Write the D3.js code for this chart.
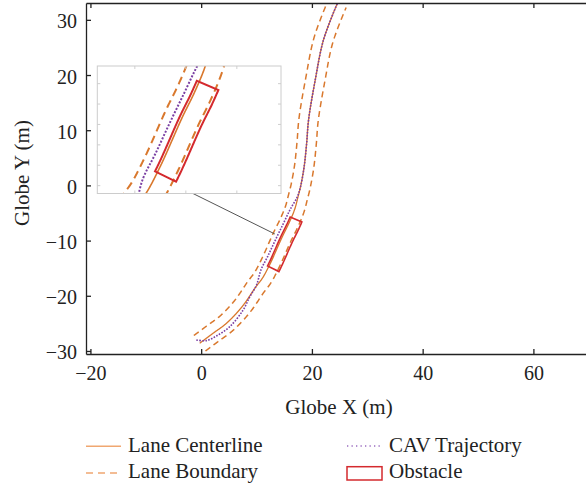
<!DOCTYPE html>
<html>
<head>
<meta charset="utf-8">
<script src="https://cdn.jsdelivr.net/npm/d3@7"></script>
<style>
  body { margin: 0; background: white; }
  text { font-family: "Liberation Serif", "DejaVu Serif", serif; fill: #222; }
</style>
</head>
<body>
<script>
// lane centerline (m)
const centerX = [-0.27, 2.14, 4.57, 7.4, 9.9, 11.1, 12.5, 14.65, 15.85, 16.9, 17.5, 17.95, 18.6, 19.05, 19.4, 20.6, 22.1, 24.6];
const centerY = [-28.6, -26.8, -24.98, -21.97, -18.35, -16.75, -14.1, -9.3, -6.85, -4.3, -2.03, -0.22, 3.41, 7.65, 11.9, 19.1, 26.4, 33.0];

// CAV trajectory
const cavX = [-0.87, 0.94, 2.76, 5.17, 7.58, 8.79, 10.0, 10.8, 12.0, 13.4, 14.85, 16.1, 17.35, 17.95, 18.6, 19.05, 19.4, 20.6, 22.1, 24.6];
const cavY = [-28.0, -28.13, -27.28, -25.6, -22.57, -20.16, -18.04, -15.3, -12.9, -9.9, -6.9, -4.3, -2.1, -0.22, 3.41, 7.65, 11.9, 19.1, 26.4, 33.0];

const laneHalfWidth = 1.75;

// obstacle: lane-relative, from its rear-left corner to front-left corner
const obstacleFrom = [11.98, -14.57];
const obstacleTo = [16.0, -5.65];
const obstacleD = [0.25, -2.05];   // lateral offsets (left +, right -)

const xTicks = [-20, 0, 20, 40, 60];
const yTicks = [-30, -20, -10, 0, 10, 20, 30];
const insetXTicks = [10, 15, 20];
const insetYTicks = [-16, -14, -12, -10, -8, -6];

const legendLabels = ["Lane Centerline", "Lane Boundary", "CAV Trajectory", "Obstacle"];

const orange = "#d9782d";
const purple = "#7a3fa3";
const red = "#d42a2e";

const body = d3.select("body");
const svg = body.append("svg")
    .attr("width", 586)
    .attr("height", 487);

// scales
const x = d3.scaleLinear().domain([-20.8, 69.5]).range([86, 586]);
const y = d3.scaleLinear().domain([-30.55, 33.05]).range([354, 3]);
const xi = d3.scaleLinear().domain([6.32, 24.33]).range([97.3, 281]);
const yi = d3.scaleLinear().domain([-16.77, -4.27]).range([193.5, 66]);

// sample centerline densely to get offsets
const rawLine = d3.line().curve(d3.curveCatmullRom.alpha(0.5));
const tmpPath = svg.append("path")
    .attr("d", rawLine(centerX.map((v, i) => [v, centerY[i]])))
    .attr("fill", "none").attr("stroke", "none");
const node = tmpPath.node();
const total = node.getTotalLength();
const dense = [];
for (let s = 0; s <= total; s += 0.1) {
    const p = node.getPointAtLength(s);
    dense.push([p.x, p.y]);
}
tmpPath.remove();

const normals = dense.map((p, i) => {
    const a = dense[Math.max(0, i - 1)], b = dense[Math.min(dense.length - 1, i + 1)];
    const tx = b[0] - a[0], ty = b[1] - a[1];
    const len = Math.hypot(tx, ty);
    return [-ty / len, tx / len];
});
const offsetPts = (d, from, to) => {
    const out = [];
    for (let i = from; i <= to; i++) {
        out.push([dense[i][0] + d * normals[i][0], dense[i][1] + d * normals[i][1]]);
    }
    return out;
};
const leftB = offsetPts(laneHalfWidth, 0, dense.length - 1);
const rightB = offsetPts(-laneHalfWidth, 0, dense.length - 1);

const nearest = (pt) => d3.minIndex(dense, p => (p[0] - pt[0]) ** 2 + (p[1] - pt[1]) ** 2);
const s0 = nearest(obstacleFrom), s1 = nearest(obstacleTo);
const obstacle = offsetPts(obstacleD[0], s0, s1)
    .concat(offsetPts(obstacleD[1], s0, s1).reverse());

const cavPts = cavX.map((v, i) => [v, cavY[i]]);

// clip paths
const defs = svg.append("defs");
defs.append("clipPath").attr("id", "clip-main")
    .append("rect").attr("x", 86).attr("y", 3).attr("width", 500).attr("height", 351);
defs.append("clipPath").attr("id", "clip-inset")
    .append("rect").attr("x", 97.3).attr("y", 66).attr("width", 183.7).attr("height", 127.5);

const drawScene = (g, sx, sy, big) => {
    const ln = d3.line().x(d => sx(d[0])).y(d => sy(d[1]));
    const smooth = d3.line().x(d => sx(d[0])).y(d => sy(d[1])).curve(d3.curveCatmullRom.alpha(0.5));

    g.selectAll(".boundary")
        .data([leftB, rightB])
        .join("path")
        .attr("class", "boundary")
        .attr("d", ln)
        .attr("fill", "none")
        .attr("stroke", orange)
        .attr("stroke-width", big ? 2 : 1.5)
        .attr("stroke-dasharray", big ? "8,5" : "6,4");

    g.append("path")
        .attr("d", ln(dense))
        .attr("fill", "none")
        .attr("stroke", orange)
        .attr("stroke-width", big ? 1.6 : 1.3);

    g.append("path")
        .attr("d", smooth(cavPts))
        .attr("fill", "none")
        .attr("stroke", purple)
        .attr("stroke-width", big ? 2 : 1.6)
        .attr("stroke-dasharray", big ? "2,1.6" : "1.6,1.4");

    g.append("path")
        .attr("d", ln(obstacle) + "Z")
        .attr("fill", "none")
        .attr("stroke", red)
        .attr("stroke-width", big ? 2 : 1.6);
};

const main = svg.append("g").attr("clip-path", "url(#clip-main)");
drawScene(main, x, y, false);

// connector from inset to the main plot
const connectorMain = [13.3, -8.8];
const connectorInsetX = 15.7;
svg.append("line")
    .attr("x1", xi(connectorInsetX)).attr("y1", yi(-16.77))
    .attr("x2", x(connectorMain[0])).attr("y2", y(connectorMain[1]))
    .attr("stroke", "#555")
    .attr("stroke-width", 1);

// inset
svg.append("rect")
    .attr("x", 97.3).attr("y", 66).attr("width", 183.7).attr("height", 127.5)
    .attr("fill", "white");
const inset = svg.append("g").attr("clip-path", "url(#clip-inset)");
drawScene(inset, xi, yi, true);

const insetTicks = svg.append("g").attr("stroke", "#cfcfcf").attr("stroke-width", 1);
insetXTicks.forEach(t => {
    insetTicks.append("line").attr("x1", xi(t)).attr("x2", xi(t)).attr("y1", 66).attr("y2", 69);
    insetTicks.append("line").attr("x1", xi(t)).attr("x2", xi(t)).attr("y1", 193.5).attr("y2", 190.5);
});
insetYTicks.forEach(t => {
    insetTicks.append("line").attr("x1", 97.3).attr("x2", 100.3).attr("y1", yi(t)).attr("y2", yi(t));
    insetTicks.append("line").attr("x1", 281).attr("x2", 278).attr("y1", yi(t)).attr("y2", yi(t));
});
svg.append("rect")
    .attr("x", 97.3).attr("y", 66).attr("width", 183.7).attr("height", 127.5)
    .attr("fill", "none")
    .attr("stroke", "#cccccc")
    .attr("stroke-width", 1);

// axes (box with inward ticks)
const axisStyle = g => {
    g.attr("font-family", "'Liberation Serif', serif").attr("font-size", 20);
    g.selectAll("path").attr("stroke", "#222").attr("stroke-width", 1.3);
    g.selectAll("line").attr("stroke", "#222").attr("stroke-width", 1.3);
    g.selectAll("text")
        .style("font-family", "'Liberation Serif', serif")
        .style("font-size", "20px")
        .attr("fill", "#222");
};

svg.append("g")
    .attr("transform", "translate(0,354)")
    .call(d3.axisBottom(x).tickValues(xTicks).tickSize(-5).tickSizeOuter(0).tickPadding(12))
    .call(axisStyle);

svg.append("g")
    .attr("transform", "translate(0,3)")
    .call(d3.axisTop(x).tickValues(xTicks).tickSize(-5).tickSizeOuter(0).tickFormat(""))
    .call(axisStyle);

svg.append("g")
    .attr("transform", "translate(86,0)")
    .call(d3.axisLeft(y).tickValues(yTicks).tickSize(-5).tickSizeOuter(0).tickPadding(9))
    .call(axisStyle)
    .selectAll("text").attr("dy", "0.4em");

// axis titles
svg.append("text")
    .attr("x", 339).attr("y", 414)
    .attr("text-anchor", "middle")
    .style("font-size", "21px")
    .text("Globe X (m)");

svg.append("text")
    .attr("transform", "translate(29,173) rotate(-90)")
    .attr("text-anchor", "middle")
    .style("font-size", "21px")
    .text("Globe Y (m)");

// legend
const legend = svg.append("g");
legend.append("line")
    .attr("x1", 86).attr("x2", 121).attr("y1", 446.3).attr("y2", 446.3)
    .attr("stroke", "#f0a771").attr("stroke-width", 1.5);
legend.append("line")
    .attr("x1", 86).attr("x2", 121).attr("y1", 473).attr("y2", 473)
    .attr("stroke", "#f0a771").attr("stroke-width", 1.5)
    .attr("stroke-dasharray", "7,5");
legend.append("line")
    .attr("x1", 347).attr("x2", 381).attr("y1", 446).attr("y2", 446)
    .attr("stroke", "#9a6cc0").attr("stroke-width", 1.3)
    .attr("stroke-dasharray", "1.3,3.2");
legend.append("rect")
    .attr("x", 347).attr("y", 466.7).attr("width", 35).attr("height", 13.3)
    .attr("fill", "none")
    .attr("stroke", red).attr("stroke-width", 1.5);

const legendPos = [[128, 452.3], [128, 478.3], [389, 452.3], [389, 478.3]];
legend.selectAll(".legend-text")
    .data(legendLabels)
    .join("text")
    .attr("class", "legend-text")
    .attr("x", (d, i) => legendPos[i][0])
    .attr("y", (d, i) => legendPos[i][1])
    .style("font-size", "21px")
    .text(d => d);
</script>
</body>
</html>
